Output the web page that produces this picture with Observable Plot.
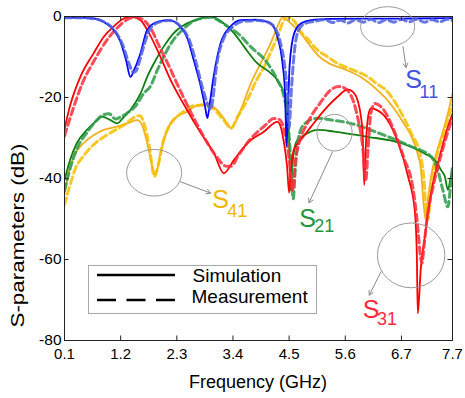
<!DOCTYPE html>
<html><head><meta charset="utf-8">
<script src="https://cdn.jsdelivr.net/npm/d3@7"></script>
<script src="https://cdn.jsdelivr.net/npm/@observablehq/plot@0.6"></script>
<style>body{margin:0;background:#fff} #chart svg{display:block}</style>
</head><body><div id="chart"></div>
<script>
const xTicks = [0.1,1.2,2.3,3.4,4.5,5.6,6.7,7.7];
const yTicks = [0,-20,-40,-60,-80];

// [frequency GHz, dB]
const s11Sim = [[0.1,-0.3],[0.41,-0.3],[0.70,-0.5],[0.86,-1.3],[1.06,-3.3],[1.19,-6],[1.31,-11],[1.39,-14.9],[1.47,-13],[1.59,-9],[1.72,-3.3],[1.92,-1.3],[2.14,-0.9],[2.37,-2.5],[2.51,-5.5],[2.63,-10.7],[2.77,-17.3],[2.85,-22],[2.90,-25.1],[2.94,-22],[3.02,-14.9],[3.16,-6.5],[3.35,-2.5],[3.55,-0.9],[3.85,-0.8],[4.04,-1.2],[4.14,-1.7],[4.27,-5],[4.37,-11.6],[4.42,-19],[4.45,-32],[4.48,-22],[4.51,-12],[4.60,-4.1],[4.73,-1.7],[4.93,-0.9],[5.32,-0.6],[5.91,-0.5],[6.70,-0.5],[7.70,-0.4]];
const s11Meas = [[0.1,-0.3],[0.41,-0.3],[0.70,-0.6],[0.90,-1.5],[1.10,-3.8],[1.24,-7],[1.36,-11.5],[1.45,-13.8],[1.50,-13.5],[1.57,-11],[1.66,-7],[1.78,-3],[1.97,-1.3],[2.16,-1],[2.40,-2.8],[2.55,-6],[2.68,-11.5],[2.80,-17.5],[2.90,-21.5],[2.96,-23],[3.01,-20],[3.07,-13],[3.20,-6],[3.40,-2.5],[3.60,-1.2],[3.90,-1],[4.10,-1.5],[4.22,-2.8],[4.33,-6.5],[4.42,-13],[4.47,-20],[4.50,-27.5],[4.54,-19],[4.60,-9],[4.68,-3.5],[4.80,-1.8],[5.0,-1.2],[5.2,-0.8],[5.35,-1.5],[5.5,-0.9],[5.65,-1.6],[5.8,-0.8],[5.95,-1.4],[6.1,-0.7],[6.25,-1.5],[6.4,-0.8],[6.55,-1.4],[6.7,-0.7],[6.85,-1.3],[7.0,-0.7],[7.15,-1.4],[7.3,-0.8],[7.45,-1.3],[7.6,-0.7],[7.7,-1.0]];

const s31Sim = [[0.1,-27.8],[0.21,-22],[0.41,-14.9],[0.67,-9.1],[0.87,-5],[1.06,-2.5],[1.26,-0.5],[1.39,0],[1.59,-0.9],[1.72,-3.3],[1.92,-8.3],[2.18,-15.7],[2.50,-23.1],[2.77,-28.8],[3.03,-33.8],[3.22,-38.7],[3.42,-35.4],[3.68,-31.3],[4.01,-28.4],[4.27,-26],[4.33,-27],[4.40,-31.3],[4.46,-37],[4.50,-43.5],[4.54,-37],[4.59,-33],[4.73,-30.5],[4.93,-27.2],[5.19,-23.1],[5.45,-19.8],[5.65,-18],[5.75,-18.6],[5.84,-20.6],[5.91,-25],[5.94,-28.8],[5.97,-41.6],[6.01,-30],[6.05,-24.5],[6.10,-22.7],[6.20,-23],[6.43,-25.6],[6.63,-31],[6.83,-39.5],[6.96,-47.8],[7.00,-58],[7.02,-73.3],[7.08,-62],[7.15,-55],[7.28,-43.7],[7.48,-33],[7.61,-27.2],[7.70,-24]];
const s31Meas = [[0.1,-29.5],[0.25,-23.5],[0.45,-16.5],[0.70,-10.5],[0.92,-6],[1.12,-3],[1.32,-0.8],[1.47,-0.2],[1.64,-0.8],[1.80,-3.2],[1.98,-8],[2.12,-11.5],[2.32,-17],[2.57,-23.5],[2.82,-29.5],[3.07,-34.5],[3.28,-37],[3.36,-37],[3.52,-34],[3.76,-30],[4.02,-27],[4.20,-25.2],[4.32,-25.5],[4.42,-29],[4.50,-35],[4.57,-43],[4.62,-36],[4.70,-31],[4.85,-26.5],[5.10,-21.5],[5.35,-17.8],[5.48,-17.3],[5.62,-18],[5.76,-21],[5.86,-26],[5.94,-32],[6.00,-40.5],[6.05,-32],[6.10,-24],[6.18,-21.5],[6.35,-23],[6.55,-28],[6.75,-35],[6.92,-42],[7.02,-52],[7.07,-59],[7.10,-61],[7.14,-57],[7.20,-50],[7.32,-42],[7.48,-34],[7.62,-28],[7.70,-25]];

const s21Sim = [[0.1,-40.4],[0.21,-35.4],[0.34,-31.3],[0.54,-28],[0.74,-25.6],[0.83,-24.7],[1.00,-25.6],[1.13,-26.4],[1.25,-25],[1.39,-23.1],[1.59,-19],[1.72,-14.9],[1.85,-11.6],[2.04,-7.5],[2.24,-4.1],[2.50,-1.7],[2.77,-0.5],[2.96,0],[3.22,-1.7],[3.42,-4.1],[3.62,-7.5],[3.88,-11.6],[4.14,-14],[4.27,-15.7],[4.40,-19],[4.47,-23.1],[4.50,-31],[4.53,-43],[4.57,-36],[4.64,-31],[4.76,-29.6],[4.86,-28.8],[5.06,-28],[5.38,-28.4],[6.04,-29.7],[6.70,-31.3],[7.15,-33.8],[7.35,-35.4],[7.48,-38],[7.55,-39.5],[7.61,-42.8],[7.66,-40],[7.70,-38]];
const s21Meas = [[0.1,-43],[0.20,-38],[0.35,-32.5],[0.55,-28.5],[0.74,-25.5],[0.84,-24.4],[0.97,-24],[1.10,-25.3],[1.20,-24.8],[1.33,-23.8],[1.50,-22],[1.65,-19],[1.78,-17.3],[1.92,-13.2],[2.06,-9.5],[2.22,-6],[2.42,-3.2],[2.62,-1.2],[2.80,-0.4],[2.96,-0.2],[3.12,-1],[3.30,-2.5],[3.49,-4.1],[3.75,-7.5],[4.08,-11.6],[4.27,-15.7],[4.40,-19.8],[4.47,-25],[4.53,-35],[4.58,-45],[4.62,-38],[4.68,-30],[4.80,-26.5],[5.06,-25.1],[5.30,-25.5],[5.71,-26.4],[6.36,-29.3],[6.89,-32.1],[7.28,-34.6],[7.41,-37.9],[7.51,-42.8],[7.61,-47],[7.66,-42],[7.70,-37]];

const s41Sim = [[0.1,-44],[0.18,-38.7],[0.28,-34.6],[0.47,-31.3],[0.67,-29.3],[0.87,-28],[1.13,-27.2],[1.33,-26.4],[1.52,-25.6],[1.62,-26.8],[1.72,-31.3],[1.82,-37],[1.88,-39.1],[1.98,-33.8],[2.11,-28],[2.31,-24.7],[2.50,-23.5],[2.63,-22.3],[2.90,-21.6],[3.09,-23.1],[3.29,-26.4],[3.36,-27.6],[3.55,-23.1],[3.75,-16.5],[3.94,-11.6],[4.14,-6.6],[4.27,-2.5],[4.37,-0.2],[4.47,-1],[4.60,-2.5],[4.75,-4.5],[4.90,-7],[5.08,-9.8],[5.30,-11.7],[5.58,-13],[5.91,-15],[6.24,-18.3],[6.45,-21],[6.60,-23.5],[6.75,-26.5],[6.89,-29.5],[7.02,-34],[7.08,-37.5],[7.12,-44],[7.17,-50],[7.22,-45],[7.28,-39.5],[7.38,-34],[7.48,-29.7],[7.61,-23.9],[7.70,-19]];
const s41Meas = [[0.1,-46.5],[0.20,-42],[0.30,-38],[0.50,-34],[0.70,-31.3],[0.90,-29.5],[1.10,-28],[1.30,-26.5],[1.45,-25],[1.58,-24.5],[1.66,-26.5],[1.76,-32],[1.86,-39.5],[1.93,-37],[2.03,-31],[2.18,-26.5],[2.40,-23.8],[2.63,-22],[2.82,-21.9],[2.96,-22.3],[3.22,-25.6],[3.36,-27.6],[3.48,-25],[3.68,-20.6],[3.85,-16],[4.01,-12.4],[4.15,-8.5],[4.27,-5],[4.40,-0.9],[4.48,0],[4.55,-0.5],[4.65,-2],[4.73,-3.8],[4.86,-5.5],[5.06,-8.3],[5.26,-10],[5.45,-11.6],[5.71,-13],[6.04,-14.9],[6.24,-16.8],[6.40,-18.2],[6.63,-22.3],[6.89,-28.8],[7.08,-34.6],[7.14,-40],[7.19,-48.6],[7.22,-50],[7.27,-44],[7.35,-37],[7.55,-28],[7.64,-24],[7.70,-22]];

// annotations
const labelNames = ["S","S","S","S"];
const labelSubs = ["11","41","21","31"];
const labelColors = ["#4455dd","#f2b600","#1f9640","#ff2a3a"];
const labelX = [6.774,2.996,4.70,5.94];
const labelY = [-17.7,-47.4,-51.9,-74.5];
const subX = [7.055,3.29,4.99,6.22];
const subY = [-20.2,-49.4,-53.1,-76.2];
// ellipses: center f, center dB, radius GHz, radius dB
const ellCx = [6.44,1.866,5.40,6.90];
const ellCy = [-2.6,-38.7,-28.8,-59.1];
const ellRx = [0.53,0.54,0.344,0.66];
const ellRy = [4.9,5.76,4.53,8.0];
const arrows = [
  {x1:6.73,y1:-7.46,x2:6.79,y2:-12.6},
  {x1:2.37,y1:-40.8,x2:2.96,y2:-43.6},
  {x1:5.35,y1:-33.4,x2:4.89,y2:-46.0},
  {x1:6.30,y1:-63.0,x2:6.07,y2:-68.8}
];
const legendLabels = ["Simulation","Measurement"];

const series = [
  {sim:s41Sim, meas:s41Meas, simColor:"#f0b020", measColor:"#f5c000"},
  {sim:s21Sim, meas:s21Meas, simColor:"#108010", measColor:"#2a9a48"},
  {sim:s31Sim, meas:s31Meas, simColor:"#ff0000", measColor:"#ff2a3a"},
  {sim:s11Sim, meas:s11Meas, simColor:"#0000ff", measColor:"#4d5fe0"}
];

const W = 465, H = 398, mL = 64, mR = 13, mT = 16, mB = 58;
const innerW = W - mL - mR, innerH = H - mT - mB;
const tl = 4.5;

const marks = [];
for (const s of series) {
  marks.push(Plot.line(s.sim, {x: d => d[0], y: d => d[1], stroke: s.simColor, strokeWidth: 1.8, curve: "monotone-x", clip: true}));
  marks.push(Plot.line(s.meas, {x: d => d[0], y: d => d[1], stroke: s.measColor, strokeWidth: 3, strokeDasharray: "7,4", strokeOpacity: 0.85, curve: "monotone-x", clip: true}));
}
const labelIdx = [0,1,2,3];
marks.push(
  Plot.text(labelIdx, {x: i => labelX[i], y: i => labelY[i], text: i => labelNames[i], fill: i => labelColors[i], fontSize: 25, textAnchor: "start", lineAnchor: "bottom"}),
  Plot.text(labelIdx, {x: i => subX[i], y: i => subY[i], text: i => labelSubs[i], fill: i => labelColors[i], fontSize: 18, textAnchor: "start", lineAnchor: "bottom"}),
  Plot.arrow(arrows, {x1: "x1", y1: "y1", x2: "x2", y2: "y2", stroke: "#8a8a8a", strokeWidth: 1, headLength: 7, bend: 0}),
  Plot.frame({stroke: "#222", strokeWidth: 1}),
  Plot.ruleX(xTicks, {x: d => d, insetTop: innerH - tl, stroke: "#222"}),
  Plot.ruleX(xTicks, {x: d => d, insetBottom: innerH - tl, stroke: "#222"}),
  Plot.ruleY(yTicks, {y: d => d, insetRight: innerW - tl, stroke: "#222"}),
  Plot.ruleY(yTicks, {y: d => d, insetLeft: innerW - tl, stroke: "#222"}),
  Plot.axisX(xTicks, {tickSize: 0, tickPadding: 8, fontSize: 15, label: null, tickFormat: d => d.toFixed(1)}),
  Plot.axisY(yTicks, {tickSize: 0, tickPadding: 3, fontSize: 15.5, label: null, tickFormat: d => String(d)})
);

const plot = Plot.plot({
  width: W, height: H,
  marginLeft: mL, marginRight: mR, marginTop: mT, marginBottom: mB,
  style: {fontFamily: "'Liberation Sans', Arial, sans-serif", background: "white", color: "black", overflow: "visible"},
  x: {domain: [0.1, 7.7]},
  y: {domain: [-80, 0]},
  marks
});

const svg = d3.select(plot);
const sx = plot.scale("x"), sy = plot.scale("y");
const ell = svg.append("g").attr("fill", "none").attr("stroke", "#9a9a9a").attr("stroke-width", 1);
for (let i = 0; i < ellCx.length; i++) {
  const cx = sx.apply(ellCx[i]), cy = sy.apply(ellCy[i]);
  ell.append("ellipse").attr("cx", cx).attr("cy", cy)
    .attr("rx", Math.abs(sx.apply(ellCx[i] + ellRx[i]) - cx))
    .attr("ry", Math.abs(sy.apply(ellCy[i] + ellRy[i]) - cy));
}
// legend
const lg = svg.append("g").attr("text-anchor", "start");
lg.append("rect").attr("x", 88.5).attr("y", 265.5).attr("width", 228).attr("height", 48)
  .attr("fill", "white").attr("stroke", "#a8a8a8").attr("stroke-width", 1);
lg.append("line").attr("x1", 97).attr("x2", 175).attr("y1", 275).attr("y2", 275).attr("stroke", "black").attr("stroke-width", 2.7);
lg.append("line").attr("x1", 97).attr("x2", 175).attr("y1", 300).attr("y2", 300).attr("stroke", "black").attr("stroke-width", 2.7).attr("stroke-dasharray", "19,10.5");
lg.append("text").attr("x", 192.5).attr("y", 281.5).attr("font-size", 19).attr("text-anchor", "start").text(legendLabels[0]);
lg.append("text").attr("x", 191.5).attr("y", 303).attr("font-size", 19).attr("text-anchor", "start").text(legendLabels[1]);
// axis titles
svg.append("text").attr("x", 258).attr("y", 388).attr("text-anchor", "middle").attr("font-size", 18).text("Frequency (GHz)");
svg.append("text").attr("transform", "translate(24,235.5) rotate(-90)").attr("text-anchor", "middle").attr("font-size", 18)
  .attr("textLength", 184).attr("lengthAdjust", "spacingAndGlyphs").text("S-parameters (dB)");

document.getElementById("chart").appendChild(plot);
</script>
</body></html>
